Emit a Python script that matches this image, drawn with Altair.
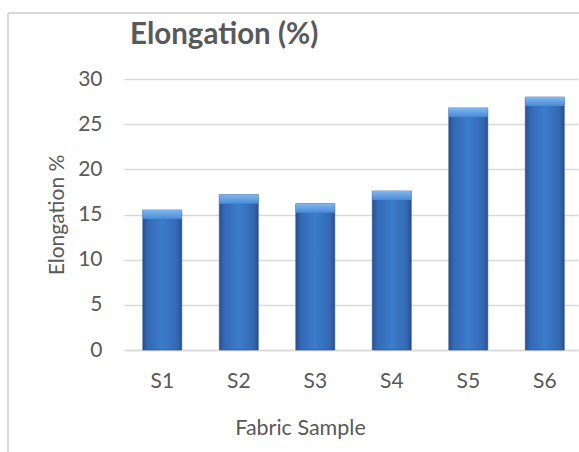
import altair as alt
import pandas as pd

samples = ["S1", "S2", "S3", "S4", "S5", "S6"]
elongation = [15.5, 17.2, 16.2, 17.6, 26.8, 28.0]

df = pd.DataFrame({"sample": samples, "elong": elongation})

FONT = "Lato"
TXT = "#595959"
GRID = "#d9d9d9"

xscale = alt.Scale(paddingInner=0.49, paddingOuter=0.2123, align=0.578)
yscale = alt.Scale(domain=[0, 30])

base = alt.Chart(df)

bars = base.mark_bar(
    color=alt.Gradient(
        gradient="linear", x1=0, x2=1, y1=0, y2=0,
        stops=[
            alt.GradientStop(offset=0, color="#284f8a"),
            alt.GradientStop(offset=0.12, color="#3468b4"),
            alt.GradientStop(offset=0.5, color="#3b7ccb"),
            alt.GradientStop(offset=0.88, color="#3468b4"),
            alt.GradientStop(offset=1, color="#284f8a"),
        ],
    ),
    stroke="#2a5490", strokeWidth=0.6,
).encode(
    x=alt.X("sample:N", sort=samples, scale=xscale,
            axis=alt.Axis(title="Fabric Sample", labelAngle=0, ticks=False,
                          domain=True, domainColor=GRID, domainWidth=1.3,
                          labelPadding=20, titlePadding=26, titleX=176,
                          labelFont=FONT, titleFont=FONT,
                          labelColor=TXT, titleColor=TXT, titleFontWeight="normal",
                          labelFontSize=21, titleFontSize=21.5)),
    y=alt.Y("elong:Q", scale=yscale,
            axis=alt.Axis(title="Elongation %", values=[0, 5, 10, 15, 20, 25, 30],
                          ticks=False, domain=False, grid=True, gridColor=GRID,
                          gridWidth=1.3, labelPadding=22, titlePadding=10,
                          labelFont=FONT, titleFont=FONT,
                          labelColor=TXT, titleColor=TXT, titleFontWeight="normal",
                          labelFontSize=21, titleFontSize=21)),
)

caps = base.mark_bar(
    y2Offset=9,
    color=alt.Gradient(
        gradient="linear", x1=0, x2=0, y1=0, y2=1,
        stops=[
            alt.GradientStop(offset=0, color="#7fb8f0"),
            alt.GradientStop(offset=1, color="#4a8ad6"),
        ],
    ),
).encode(
    x=alt.X("sample:N", sort=samples, scale=xscale),
    y=alt.Y("elong:Q", scale=yscale),
    y2="elong:Q",
)

left_border = alt.Chart(df).mark_rule(color=GRID, strokeWidth=1.5).encode(
    x=alt.value(-116), y=alt.value(-66), y2=alt.value(380)
)
top_border = alt.Chart(df).mark_rule(color=GRID, strokeWidth=1.5).encode(
    x=alt.value(-116), x2=alt.value(460), y=alt.value(-66)
)

chart = alt.layer(left_border, top_border, bars, caps).properties(
    width=454, height=271,
    autosize=alt.AutoSizeParams(type="none"),
    padding={"left": 124, "top": 79, "right": 1, "bottom": 102},
    background="white",
    title=alt.TitleParams("Elongation (%)", anchor="start", frame="group",
                          font=FONT, fontSize=29.5, fontWeight="bold", color=TXT,
                          baseline="alphabetic", dx=6, dy=61, offset=0),
).configure_view(stroke=None)

chart.save("out.html", embed_options={"renderer": "svg", "actions": False})
